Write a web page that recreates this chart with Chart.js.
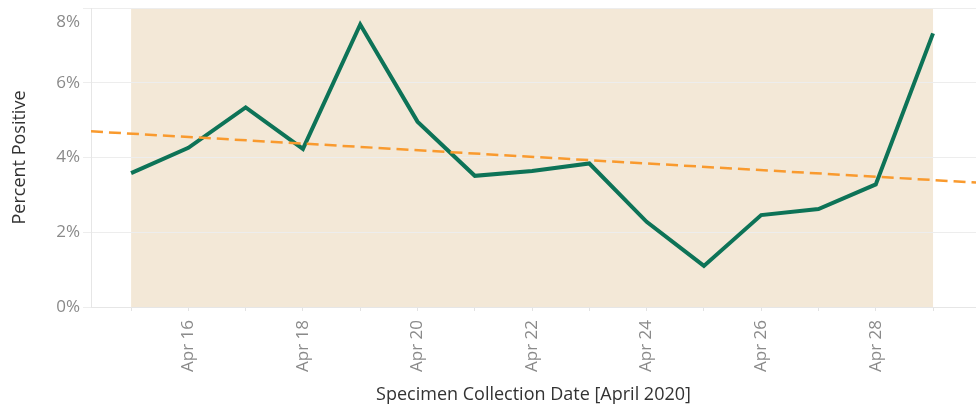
<!DOCTYPE html>
<html>
<head>
<meta charset="utf-8">
<script src="https://cdn.jsdelivr.net/npm/chart.js@4"></script>
<style>
  html, body { margin: 0; padding: 0; background: #fff; }
  #wrap { width: 976px; height: 407px; }
</style>
</head>
<body>
<div id="wrap"><canvas id="chart" width="976" height="407"></canvas></div>
<script>
// day of month, April 2020
const days = [15, 16, 17, 18, 19, 20, 21, 22, 23, 24, 25, 26, 27, 28, 29];
// percent positive
const percentPositive = [3.58, 4.26, 5.34, 4.23, 7.56, 4.96, 3.51, 3.64, 3.84, 2.28, 1.10, 2.46, 2.62, 3.28, 7.32];
// trend line endpoints (axis edges)
const trendDays = [14.3, 29.75];
const trendValues = [4.70, 3.33];
const yTicks = [0, 2, 4, 6, 8];

const FONT = "'Open Sans', sans-serif";

// shaded band behind the data range, drawn before grid lines
const bandPlugin = {
    id: 'band',
    beforeDraw(chart) {
        const { ctx, chartArea, scales } = chart;
        const x0 = scales.x.getPixelForValue(days[0]);
        const x1 = scales.x.getPixelForValue(days[days.length - 1]);
        ctx.save();
        ctx.fillStyle = '#f3e8d7';
        ctx.fillRect(x0, chartArea.top, x1 - x0, chartArea.bottom - chartArea.top);
        ctx.restore();

        // top tick label sits a bit below its grid line, like the original
        scales.y.getLabelItems().forEach(it => {
            if (it.label === yTicks[yTicks.length - 1] + '%') it.options.translation[1] += 14;
        });
    }
};

new Chart(document.getElementById('chart').getContext('2d'), {
    type: 'line',
    data: {
        datasets: [
            {
                label: 'Percent Positive',
                data: days.map((d, i) => ({ x: d, y: percentPositive[i] })),
                borderColor: '#0d7357',
                borderWidth: 4,
                pointRadius: 0,
                tension: 0,
                fill: false,
                order: 2
            },
            {
                label: 'Trend',
                data: trendDays.map((d, i) => ({ x: d, y: trendValues[i] })),
                borderColor: '#f99a2e',
                borderWidth: 2.5,
                borderDash: [12, 6],
                pointRadius: 0,
                fill: false,
                order: 1
            }
        ]
    },
    options: {
        responsive: false,
        animation: false,
        layout: { padding: { top: 8, right: 0, left: 0, bottom: 0 } },
        plugins: { legend: { display: false }, tooltip: { enabled: false } },
        scales: {
            x: {
                type: 'linear',
                min: trendDays[0],
                max: trendDays[1],
                afterFit: s => { s.height = 100; s.paddingLeft = 0; s.paddingRight = 0; },
                grid: { drawOnChartArea: false, tickLength: 4, color: '#e3e3e3' },
                border: { color: '#e6e6e6' },
                ticks: {
                    stepSize: 1,
                    includeBounds: false,
                    autoSkip: false,
                    minRotation: 90,
                    maxRotation: 90,
                    padding: 9,
                    color: '#8a8a8a',
                    font: { family: FONT, size: 17 },
                    callback: v => (v % 2 === 0 ? 'Apr ' + v : '')
                },
                title: {
                    display: true,
                    text: 'Specimen Collection Date [April 2020]',
                    color: '#333',
                    font: { family: FONT, size: 18 },
                    padding: { top: 0, bottom: 1 }
                }
            },
            y: {
                min: 0,
                max: 8,
                afterFit: s => { s.width = 91; s.paddingTop = 0; s.paddingBottom = 0; },
                afterBuildTicks: s => { s.ticks = yTicks.map(v => ({ value: v })); },
                grid: { color: '#ededed', tickLength: 8 },
                border: { color: '#e6e6e6' },
                ticks: {
                    padding: 3,
                    color: '#8a8a8a',
                    font: { family: FONT, size: 17 },
                    callback: v => v + '%'
                },
                title: {
                    display: true,
                    text: 'Percent Positive',
                    color: '#333',
                    font: { family: FONT, size: 18 },
                    padding: { top: 9, bottom: 0 }
                }
            }
        }
    },
    plugins: [bandPlugin]
});
</script>
</body>
</html>
